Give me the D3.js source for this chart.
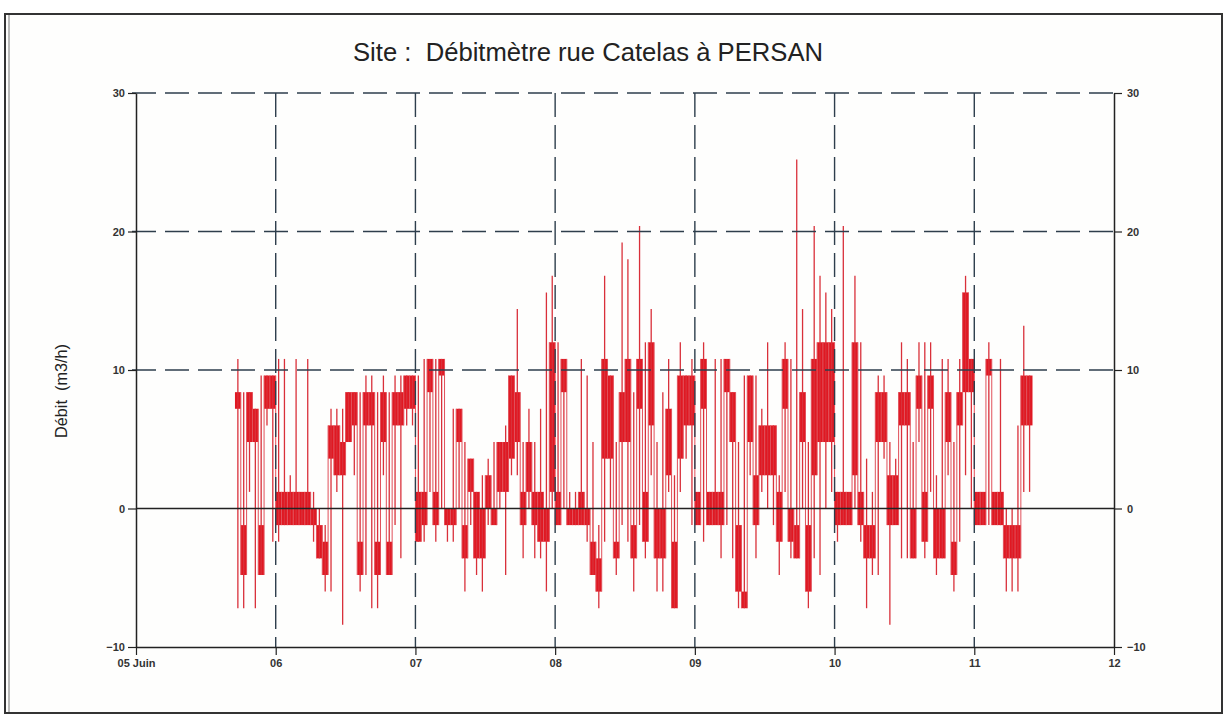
<!DOCTYPE html>
<html>
<head>
<meta charset="utf-8">
<script src="https://cdn.jsdelivr.net/npm/d3@7"></script>
<style>
  html, body { margin: 0; padding: 0; background: #ffffff; }
  svg { display: block; }
</style>
</head>
<body>
<svg id="chart" width="1231" height="720"></svg>
<script>
// ---- data (hourly bins, hour index counted from 05 Juin 00:00) ----
const firstHour = 17;
const lowVals = [
  -7.2,-7.2,1.2,-7.2,-4.8,6.0,-2.4,-2.4,-1.2,-1.2,-1.2,-1.2,-1.2,-2.4,-3.6,-6.0,
  -6.0,1.2,-8.4,4.8,2.4,-6.0,-4.8,-7.2,-7.2,2.4,-4.8,-1.2,-3.6,6.0,6.0,-2.4,
  -2.4,1.2,-2.4,0,-2.4,-2.4,0,-6.0,-1.2,-4.8,-6.0,-1.2,-1.2,0,-4.8,2.4,
  2.4,-3.6,0,-3.6,-3.6,-6.0,0,-1.2,0,-1.2,-1.2,-1.2,-2.4,-4.8,-7.2,-2.4,
  0,-4.8,-1.2,-2.4,-6.0,-1.2,-3.6,2.4,-6.0,-6.0,1.2,-7.2,1.2,3.6,-1.2,-1.2,
  -2.4,-1.2,-1.2,-3.6,-1.2,-3.6,-7.2,-7.2,2.4,-3.6,1.2,0,-1.2,-4.8,1.2,-3.6,
  -3.6,0,-7.2,-3.6,-4.8,0,1.2,-2.4,-1.2,-1.2,0,-2.4,-7.2,-4.8,-4.8,3.6,
  -8.4,-1.2,-3.6,-3.6,-3.6,4.8,-3.6,1.2,-4.8,-3.6,2.4,-6.0,-2.4,2.4,0,-1.2,
  -1.2,-1.2,-1.2,-1.2,-6.0,-6.0,-6.0,1.2,1.2
];
const bandLowVals = [
  7.2,-4.8,4.8,4.8,-4.8,7.2,7.2,-1.2,-1.2,-1.2,-1.2,-1.2,-1.2,-1.2,-3.6,-4.8,
  3.6,2.4,2.4,4.8,6.0,-4.8,6.0,6.0,-4.8,4.8,-4.8,6.0,6.0,7.2,7.2,-2.4,
  -1.2,8.4,-1.2,9.6,-1.2,-1.2,4.8,-3.6,1.2,-3.6,-3.6,0,-1.2,1.2,1.2,3.6,
  4.8,-1.2,1.2,-1.2,-2.4,-2.4,1.2,-1.2,8.4,-1.2,-1.2,-1.2,-1.2,-4.8,-6.0,3.6,
  3.6,-3.6,4.8,4.8,-3.6,7.2,-2.4,6.0,-3.6,-3.6,2.4,-7.2,3.6,6.0,6.0,-1.2,
  7.2,-1.2,-1.2,-1.2,8.4,4.8,-6.0,-7.2,4.8,-1.2,2.4,2.4,2.4,-2.4,7.2,-2.4,
  -3.6,4.8,-6.0,2.4,4.8,4.8,4.8,-1.2,-1.2,-1.2,2.4,-1.2,-3.6,-3.6,4.8,4.8,
  -1.2,-1.2,6.0,6.0,-3.6,7.2,-2.4,7.2,-3.6,-3.6,4.8,-4.8,6.0,8.4,8.4,-1.2,
  -1.2,9.6,-1.2,-1.2,-3.6,-3.6,-3.6,6.0,6.0
];
const bandHighVals = [
  8.4,-1.2,8.4,7.2,-1.2,9.6,9.6,1.2,1.2,1.2,1.2,1.2,1.2,0,-1.2,-2.4,
  6.0,6.0,4.8,8.4,8.4,-2.4,8.4,8.4,-2.4,8.4,-2.4,8.4,8.4,9.6,9.6,1.2,
  1.2,10.8,1.2,10.8,0,0,7.2,-1.2,3.6,1.2,0,2.4,0,4.8,4.8,9.6,
  8.4,1.2,4.8,1.2,1.2,0,12.0,1.2,10.8,0,0,1.2,0,-2.4,-3.6,10.8,
  9.6,-2.4,8.4,10.8,-1.2,10.8,1.2,12.0,0,0,7.2,-2.4,9.6,9.6,9.6,1.2,
  10.8,1.2,1.2,1.2,10.8,8.4,-1.2,-6.0,9.6,2.4,6.0,6.0,6.0,1.2,10.8,0,
  -1.2,8.4,-1.2,10.8,12.0,12.0,12.0,1.2,1.2,1.2,12.0,1.2,-1.2,-1.2,8.4,8.4,
  2.4,2.4,8.4,8.4,0,9.6,1.2,9.6,0,0,8.4,-2.4,8.4,15.6,10.8,1.2,
  1.2,10.8,1.2,1.2,-1.2,-1.2,-1.2,9.6,9.6
];
const highVals = [
  10.8,8.4,8.4,7.2,9.6,9.6,9.6,10.8,10.8,2.4,10.8,1.2,10.8,1.2,0,-1.2,
  7.2,7.2,7.2,8.4,8.4,8.4,9.6,9.6,8.4,9.6,8.4,9.6,9.6,9.6,9.6,9.6,
  10.8,10.8,10.8,10.8,0,7.2,7.2,4.8,3.6,1.2,2.4,3.6,4.8,4.8,6.0,9.6,
  14.4,4.8,7.2,4.8,7.2,15.6,16.8,12.0,10.8,1.2,1.2,10.8,9.6,4.8,-1.2,16.8,
  9.6,4.8,19.2,18.0,8.4,20.4,12.0,14.4,4.8,8.4,10.8,2.4,12.0,9.6,10.8,1.2,
  12.0,1.2,10.8,10.8,10.8,8.4,4.8,9.6,9.6,9.6,7.2,12.0,6.0,2.4,12.0,10.8,
  25.2,14.4,4.8,20.4,16.8,15.6,14.4,1.2,20.4,1.2,16.8,12.0,3.6,1.2,9.6,9.6,
  4.8,3.6,12.0,10.8,4.8,12.0,12.0,12.0,2.4,10.8,10.8,4.8,10.8,16.8,10.8,1.2,
  1.2,12.0,1.2,10.8,0,0,6.0,13.2,9.6
];
const yTickValues = [-10, 0, 10, 20, 30];
const gridValues = [10, 20, 30];
const dayHours = [0, 24, 48, 72, 96, 120, 144, 168];
const dayLabels = ["05 Juin", "06", "07", "08", "09", "10", "11", "12"];
const titleText = "Site :  Débitmètre rue Catelas à PERSAN";
const yAxisTitle = "Débit  (m3/h)";

// ---- layout ----
const svg = d3.select("#chart");
const plotLeft = 136, plotRight = 1114, plotTop = 93, plotBottom = 647;
const x = d3.scaleLinear().domain([0, 168]).range([plotLeft, plotRight]);
const y = d3.scaleLinear().domain([-10, 30]).range([plotBottom, plotTop]);

const bins = lowVals.map((v, i) => ({
  h: firstHour + i, lo: v, bLo: bandLowVals[i], bHi: bandHighVals[i], hi: highVals[i]
}));

// outer frame
svg.append("rect").attr("x", 5).attr("y", 14).attr("width", 1217).attr("height", 699)
  .attr("fill", "#fefefd").attr("stroke", "#333").attr("stroke-width", 2);
svg.append("line").attr("x1", 9).attr("x2", 9).attr("y1", 15).attr("y2", 712)
  .attr("stroke", "#777").attr("stroke-width", 1);

// ---- data marks ----
const dataG = svg.append("g");
dataG.selectAll("rect.band").data(bins).enter().append("rect")
  .attr("class", "band")
  .attr("x", d => x(d.h))
  .attr("width", d => x(d.h + 1) - x(d.h))
  .attr("y", d => y(d.bHi))
  .attr("height", d => Math.max(1.5, y(d.bLo) - y(d.bHi)))
  .attr("fill", "#e01822");
dataG.selectAll("line.rng").data(bins).enter().append("line")
  .attr("class", "rng")
  .attr("x1", d => x(d.h + 0.5)).attr("x2", d => x(d.h + 0.5))
  .attr("y1", d => y(d.hi)).attr("y2", d => y(d.lo))
  .attr("stroke", "#d9303a").attr("stroke-width", 1.3);
dataG.selectAll("line.lnk").data(bins.slice(1)).enter().append("line")
  .attr("class", "lnk")
  .attr("x1", d => x(d.h)).attr("x2", d => x(d.h))
  .attr("y1", (d, i) => y(Math.max(bins[i].bHi, d.bHi)))
  .attr("y2", (d, i) => y(Math.min(bins[i].bLo, d.bLo)))
  .attr("stroke", "#e0505a").attr("stroke-width", 1);

// ---- grid on top ----
const gridG = svg.append("g");
gridG.selectAll("line.hg").data(gridValues).enter().append("line")
  .attr("x1", plotLeft - 4).attr("x2", plotRight)
  .attr("y1", d => y(d)).attr("y2", d => y(d))
  .attr("stroke", "#2e3e4c").attr("stroke-width", 1.4)
  .attr("stroke-dasharray", "24,9");
gridG.selectAll("line.vg").data(dayHours.slice(1, -1)).enter().append("line")
  .attr("x1", d => x(d)).attr("x2", d => x(d))
  .attr("y1", plotTop).attr("y2", plotBottom)
  .attr("stroke", "#2e3e4c").attr("stroke-width", 1.4)
  .attr("stroke-dasharray", "24,8");
gridG.append("line")
  .attr("x1", plotLeft).attr("x2", plotRight).attr("y1", y(0)).attr("y2", y(0))
  .attr("stroke", "#222").attr("stroke-width", 1.3);

// ---- axes ----
const tickFont = "'Liberation Sans Narrow', 'Liberation Sans', Arial, sans-serif";
function styleAxis(g) {
  g.select(".domain").attr("stroke", "#222").attr("stroke-width", 1.5);
  g.selectAll(".tick line").attr("stroke", "#222").attr("stroke-width", 1.2);
  g.selectAll(".tick text").attr("fill", "#333").style("font-family", tickFont)
    .style("font-size", "11px").style("font-weight", "bold");
}
svg.append("g").attr("transform", `translate(${plotLeft},0)`)
  .call(d3.axisLeft(y).tickValues(yTickValues).tickSize(8).tickSizeOuter(0).tickPadding(3))
  .call(styleAxis);
svg.append("g").attr("transform", `translate(${plotRight},0)`)
  .call(d3.axisRight(y).tickValues(yTickValues).tickSize(8).tickSizeOuter(0).tickPadding(5))
  .call(styleAxis);
svg.append("g").attr("transform", `translate(0,${plotBottom})`)
  .call(d3.axisBottom(x).tickValues(dayHours).tickFormat((d, i) => dayLabels[i]).tickSize(8).tickSizeOuter(0).tickPadding(4))
  .call(styleAxis);

// ---- titles ----
svg.append("text").attr("x", 353).attr("y", 61)
  .attr("textLength", 470).attr("lengthAdjust", "spacingAndGlyphs")
  .style("white-space", "pre")
  .style("font-family", "'Liberation Sans', Arial, sans-serif").style("font-size", "25px")
  .attr("fill", "#222").text(titleText);
svg.append("text").attr("transform", "translate(67,438) rotate(-90)")
  .attr("textLength", 94).attr("lengthAdjust", "spacingAndGlyphs")
  .style("white-space", "pre")
  .style("font-family", "'Liberation Sans', Arial, sans-serif").style("font-size", "17px")
  .attr("fill", "#222").text(yAxisTitle);
</script>
</body>
</html>
